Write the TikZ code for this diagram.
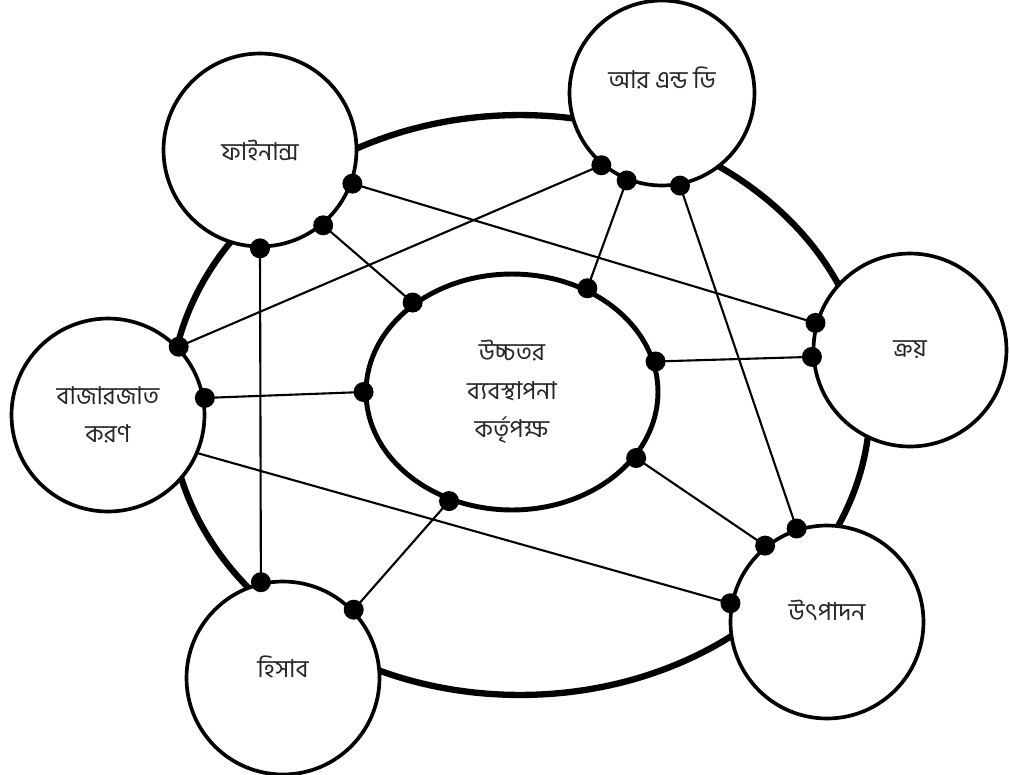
\documentclass[tikz,border=0pt]{standalone}
\usepackage{fontspec}
\newfontfamily\bangla[Script=Bengali]{Hind Siliguri}
\usetikzlibrary{shapes,positioning,calc}

\begin{document}
\begin{tikzpicture}[
    x=0.02cm, y=-0.02cm,
    dept/.style={draw, circle, line width=2.1pt, fill=white, minimum size=3.86cm, align=center, text=black!85, font=\bangla\fontsize{14}{22}\selectfont},
    head/.style={draw, ellipse, line width=2.8pt, fill=white, minimum width=5.84cm, minimum height=4.72cm, align=center, text=black!85, font=\bangla\fontsize{14}{22}\selectfont},
    ring/.style={line width=3.6pt},
    link/.style={line width=1.2pt},
    dot/.style={circle, fill=black, inner sep=0pt, minimum size=0.4cm}
]
    \useasboundingbox (0,0) rectangle (1009,775);

    % Outer ring
    \draw[ring] (520,405) ellipse [x radius=7cm, y radius=5.8cm];

    % Top management
    \node[head] (top) at (512,392) {উচ্চতর\\ব্যবস্থাপনা\\কর্তৃপক্ষ};

    % Departments
    \node[dept] (fin) at (260,150) {ফাইনান্স};
    \node[dept, minimum size=3.7cm] (rnd) at (662,93) {\raisebox{0.6cm}{আর এন্ড ডি}};
    \node[dept] (buy) at (910,350) {ক্রয়};
    \node[dept] (mkt) at (108,415) {বাজারজাত\\করণ};
    \node[dept] (acc) at (283,678) {\raisebox{0.44cm}{হিসাব}};
    \node[dept] (prod) at (827,622) {\raisebox{0.48cm}{উৎপাদন}};

    % Links
    \draw[link] (fin.-50) -- (top.138) node[dot, pos=0] {} node[dot, pos=1] {};
    \draw[link] (fin.-20) -- (buy.164) node[dot, pos=0] {} node[dot, pos=1] {};
    \draw[link] (fin.-90) -- (acc.103) node[dot, pos=0] {} node[dot, pos=1] {};
    \draw[link] (mkt.44) -- (rnd.-130) node[dot, pos=0] {} node[dot, pos=1] {};
    \draw[link] (mkt.10) -- (top.180) node[dot, pos=0] {} node[dot, pos=1] {};
    \draw[link] (mkt.-23) -- (prod.169) node[dot, pos=1] {};
    \draw[link] (rnd.-112) -- (top.54) node[dot, pos=0] {} node[dot, pos=1] {};
    \draw[link] (rnd.-79) -- (prod.108) node[dot, pos=0] {} node[dot, pos=1] {};
    \draw[link] (top.12) -- (buy.-176) node[dot, pos=0] {} node[dot, pos=1] {};
    \draw[link] (top.-28) -- (prod.129) node[dot, pos=0] {} node[dot, pos=1] {};
    \draw[link] (top.-120) -- (acc.44) node[dot, pos=0] {} node[dot, pos=1] {};

\end{tikzpicture}
\end{document}
